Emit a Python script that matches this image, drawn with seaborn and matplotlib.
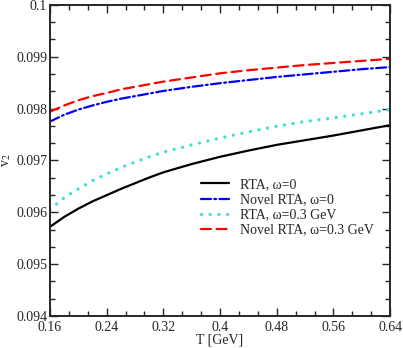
import numpy as np
import pandas as pd
import matplotlib
matplotlib.use("Agg")
import matplotlib.pyplot as plt
import seaborn as sns
from matplotlib.ticker import MultipleLocator, FuncFormatter

# Data
T = [0.16, 0.18, 0.20, 0.22, 0.24, 0.26, 0.28, 0.30, 0.32,
     0.36, 0.40, 0.44, 0.48, 0.52, 0.56, 0.60, 0.64]
rta_w0 = [0.09572, 0.09591, 0.09607, 0.09621, 0.09633, 0.09645, 0.09656, 0.09667, 0.09677,
          0.09693, 0.09707, 0.09719, 0.09730, 0.09739, 0.09748, 0.09758, 0.09768]
novel_w0 = [0.09775, 0.09788, 0.09798, 0.09806, 0.09813, 0.09819, 0.09824, 0.09829, 0.09834,
            0.09842, 0.09849, 0.09855, 0.09861, 0.09866, 0.09871, 0.09876, 0.09880]
rta_w03 = [0.09605, 0.09628, 0.09645, 0.09661, 0.09674, 0.09686, 0.09697, 0.09707, 0.09716,
           0.09730, 0.09743, 0.09755, 0.09766, 0.09775, 0.09782, 0.09790, 0.09798]
novel_w03 = [0.09794, 0.09806, 0.09816, 0.09824, 0.09830, 0.09837, 0.09842, 0.09847, 0.09852,
             0.09860, 0.09868, 0.09874, 0.09879, 0.09884, 0.09888, 0.09892, 0.09896]

labels = ["RTA, ω=0", "Novel RTA, ω=0", "RTA, ω=0.3 GeV", "Novel RTA, ω=0.3 GeV"]
series = [rta_w0, novel_w0, rta_w03, novel_w03]
colors = ["black", "blue", "turquoise", "red"]
styles = ["-", (0, (4.5, 1.5, 0.8, 1.5)), (0, (0.01, 2.6)), (0, (4.5, 2.5))]
widths = [1.6, 1.6, 2.4, 1.6]

sns.set_style("ticks")
plt.rcParams['font.family'] = ['Liberation Serif', 'DejaVu Serif']
plt.rcParams['mathtext.fontset'] = 'stix'

fig = plt.figure(figsize=(4.03, 3.48), dpi=100)
ax = fig.add_axes([0.124, 0.092, 0.844, 0.894])

for lab, ys, c, ls, lw in zip(labels, series, colors, styles, widths):
    df = pd.DataFrame({"T": T, "v2": ys})
    sns.lineplot(data=df, x="T", y="v2", ax=ax, color=c, label=lab,
                 linestyle=ls, linewidth=lw, dash_capstyle="round")

ax.set_xlim(0.16, 0.64)
ax.set_ylim(0.094, 0.1)
ax.xaxis.set_major_locator(MultipleLocator(0.08))
ax.xaxis.set_minor_locator(MultipleLocator(0.08 / 3))
ax.yaxis.set_major_locator(MultipleLocator(0.001))
ax.yaxis.set_minor_locator(MultipleLocator(0.001 / 3))
ax.xaxis.set_major_formatter(FuncFormatter(lambda v, p: "%g" % round(v, 3)))
ax.yaxis.set_major_formatter(FuncFormatter(lambda v, p: "%g" % round(v, 4)))

ax.tick_params(which="both", direction="in", top=True, right=True,
               labelsize=10, width=1.0)
ax.tick_params(axis="x", pad=3.5)
ax.tick_params(axis="y", pad=2)
ax.tick_params(which="major", length=6)
ax.tick_params(which="minor", length=3.5)
for s in ax.spines.values():
    s.set_linewidth(1.4)

ax.set_xlabel("T [GeV]", fontsize=10, labelpad=0)
ax.set_ylabel("v$_2$", fontsize=10, labelpad=2)

ax.legend(loc="lower right", bbox_to_anchor=(0.99, 0.215), frameon=False,
          fontsize=10, handlelength=2.0, handletextpad=0.8, labelspacing=0.15)

fig.savefig("out.png", dpi=100)
